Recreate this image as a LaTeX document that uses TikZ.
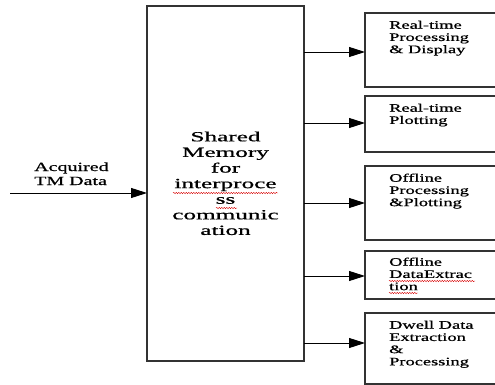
\documentclass[tikz,border=0pt]{standalone}
\usepackage{fontspec}
\setmainfont{Liberation Serif}[UprightFeatures={FakeBold=0.6}]
\usetikzlibrary{arrows.meta,decorations.pathmorphing}
% wide-set text block: #1 horizontal stretch, #2 column alignment, #3 lines
\newcommand\widetext[3]{\scalebox{#1}[1]{\begin{tabular}{@{}#2@{}}#3\end{tabular}}}
\tikzset{
  blockbox/.style={draw=black!80, line width=1.6pt, fill=white},
  flow/.style={line width=0.9pt, -{Triangle[length=16pt,width=10pt]}},
  boxtxt/.style={font=\fontsize{11.5}{12.2}\selectfont, anchor=north west, inner sep=0pt},
  maintxt/.style={font=\fontsize{14}{15.6}\selectfont, inner sep=0pt},
  spell/.style={red!85!black, line width=0.4pt, decorate, decoration={snake, amplitude=0.7pt, segment length=2.5pt}}
}
\begin{document}
\begin{tikzpicture}[x=1pt,y=-1pt]
\useasboundingbox (0,0) rectangle (495,385);
\clip (0,0) rectangle (495,385);

% central shared-memory block
\draw[blockbox] (147,6) rectangle (304,361);
\coordinate (mainL) at (147,193);
\node[maintxt] (mem) at (225.5,185) {\widetext{1.8}{c}{Shared\\Memory\\for\\interproce\\ss\\communic\\ation}};
\draw[spell] (173,193) -- (278,193);
\draw[spell] (216,208) -- (237,208);

% input
\coordinate (in) at (10,193);
\node[font=\fontsize{12.5}{14}\selectfont, anchor=north west, inner sep=0pt] (acq) at (34,161) {\widetext{1.6}{l}{Acquired\\TM Data}};
\draw[flow] (in) -- (mainL);

% consumer processes
\draw[blockbox] (365,13) rectangle (500,87);
\draw[blockbox] (365,96) rectangle (500,152);
\draw[blockbox] (365,166) rectangle (500,240);
\draw[blockbox] (365,251) rectangle (500,299);
\draw[blockbox] (365,313) rectangle (500,384);

\node[boxtxt] (p1) at (389,20) {\widetext{1.6}{l}{Real-time\\Processing\\\& Display}};
\node[boxtxt] (p2) at (389,103) {\widetext{1.6}{l}{Real-time\\Plotting}};
\node[boxtxt] (p3) at (389,173) {\widetext{1.6}{l}{Offline\\Processing\\\&Plotting}};
\node[boxtxt] (p4) at (389,257) {\widetext{1.6}{l}{Offline\\DataExtrac\\tion}};
\node[boxtxt] (p5) at (389,320) {\widetext{1.6}{l}{Dwell Data\\Extraction\\\&\\Processing}};
\draw[spell] (389,281) -- (475,281);
\draw[spell] (389,293) -- (418,293);

\foreach \y/\n in {52/1,123/2,203/3,276/4,343/5}{
  \coordinate (s\n) at (304,\y);
  \coordinate (t\n) at (365,\y);
  \draw[flow] (s\n) -- (t\n);
}
\end{tikzpicture}
\end{document}
